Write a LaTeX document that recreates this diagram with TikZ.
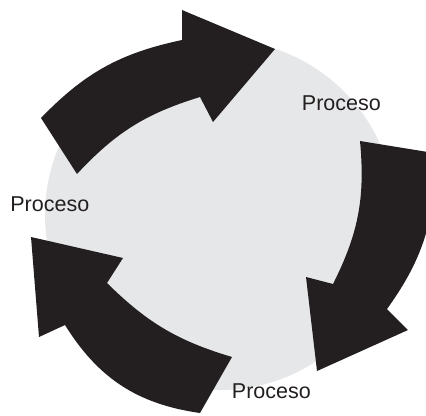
\documentclass[tikz,border=0pt]{standalone}
\usepackage{fontspec}
\setmainfont{Liberation Sans}
\definecolor{cyclegray}{HTML}{E6E7E8}
\definecolor{cycleblack}{HTML}{231F20}
\tikzset{
	cyclearrow/.style={fill=cycleblack},
	proclabel/.style={anchor=base west,inner sep=0pt,text=cycleblack,font=\fontsize{15.3}{18}\selectfont}
}

\begin{document}
\begin{tikzpicture}[x=0.25mm,y=-0.25mm]
		\useasboundingbox (0,0) rectangle (426,415);
		\fill[cyclegray] (220,215) circle[radius=175];
		\fill[cyclearrow] (41,118) to[bend left=17] (182,40) -- (182,10) -- (275,49) -- (213,122) -- (200,97) to[bend right=15] (77,174) -- cycle;
		\fill[cyclearrow] (434,153) to[bend left=19] (387,309) -- (408,330) -- (317,371) -- (306,277) -- (333,284) to[bend right=16] (360,141) -- cycle;
		\fill[cyclearrow] (200,413) to[bend left=25] (65,325) -- (39,337) -- (31,237) -- (123,258) -- (107,283) to[bend right=14] (232,357) -- cycle;
		\foreach \pos[count=\i] in {{(301.7,110.7)}, {(231.7,398.3)}, {(10.1,211)}}{
		\node[proclabel] (proc-\i) at \pos {Proceso};
		}
		\end{tikzpicture}
\end{document}
